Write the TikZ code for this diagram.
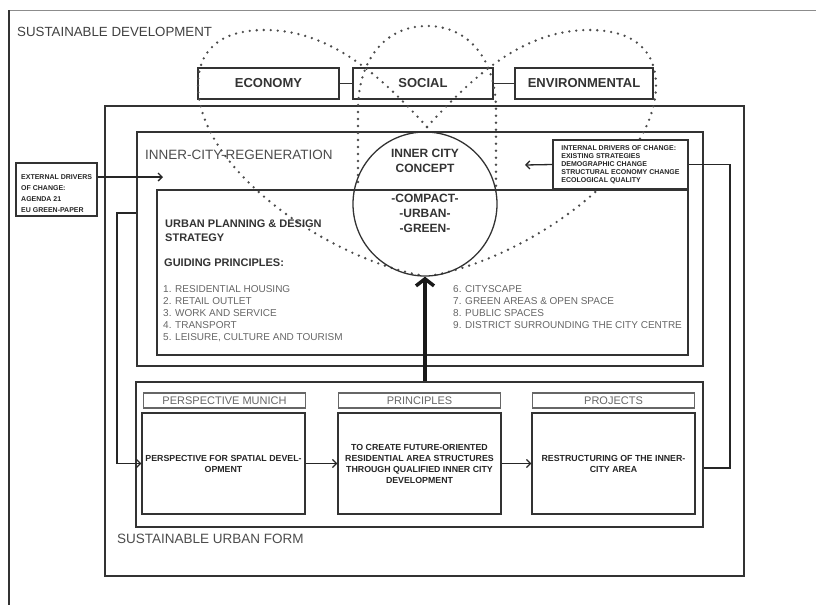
\documentclass[tikz,border=0pt]{standalone}
\usepackage{fontspec}
\setmainfont{Liberation Sans}
\usetikzlibrary{arrows.meta}

\begin{document}
\begin{tikzpicture}[x=1pt,y=-1pt,>={Straight Barb[length=4pt,width=8pt]},
		frame/.style={draw=black!80,line width=2pt},
		box/.style={draw=black!80,line width=1.2pt},
		pillar/.style={box,minimum width=140,minimum height=31,text=black!80,font=\bfseries\fontsize{13}{13}\selectfont},
		head/.style={draw=black!60,line width=1.2pt,minimum width=162,minimum height=15,inner sep=0pt,text=black!60,font=\fontsize{11}{11}\selectfont},
		cell/.style={box,minimum width=163,minimum height=101,inner sep=2pt,align=center,text=black!85,font=\bfseries\fontsize{8.8}{11}\selectfont},
		title/.style={anchor=west,inner sep=0pt,text=black!70,font=\fontsize{13.5}{13.5}\selectfont},
		list/.style={anchor=north west,inner sep=0pt,align=left,text=black!60,font=\fontsize{10}{12}\selectfont},
		petal/.style={draw=black!70,line width=2.6pt,line cap=round,dash pattern=on 0pt off 7pt},
		flow/.style={->,draw=black!85,line width=1.3pt}]
			\useasboundingbox (0,0) rectangle (816,605);
			\draw[black!45,line width=1pt] (816,10) -- (9,10);
			\draw[black!80,line width=2pt] (9,10) -- (9,605);
			\draw (424.5,341) node [frame,minimum width=639,minimum height=470] (urbanform) {};
			\draw (420,249) node [frame,line width=2.5pt,minimum width=566,minimum height=234] (regen) {};
			\draw (422.5,272.5) node [box,minimum width=531,minimum height=165] (strategy) {};
			\draw (419.5,454.5) node [frame,minimum width=567,minimum height=145] (munich) {};
			\draw (268.5,83.5) node [pillar,minimum width=141] (economy) {ECONOMY};
			\draw (423,83.5) node [pillar] (social) {SOCIAL};
			\draw (584,83.5) node [pillar,minimum width=138] (environ) {ENVIRONMENTAL};
			\draw[petal] (427,127) .. controls (380,75) and (330,30) .. (265,30) .. controls (215,30) and (198,55) .. (198,85) .. controls (198,170) and (330,260) .. (425,276);
			\draw[petal] (427,127) .. controls (474,75) and (524,30) .. (589,30) .. controls (639,30) and (656,55) .. (656,85) .. controls (656,170) and (524,260) .. (429,276);
			\draw[petal] (358,182) -- (358,110) .. controls (358,60) and (385,26) .. (427,26) .. controls (469,26) and (496,60) .. (496,110) -- (496,192);
			\draw (425,204) node [circle,draw=black!80,line width=1.3pt,minimum size=144] (concept) {};
			\draw (425,190.5) node [align=center,text=black!80,font=\bfseries\fontsize{12}{15}\selectfont] (concepttext) {INNER CITY\\CONCEPT\\[15pt]-COMPACT-\\-URBAN-\\-GREEN-};
			\draw (56.5,189.5) node [box,minimum width=81,minimum height=53] (external) {};
			\draw (21,194) node [anchor=west,inner sep=0pt,align=left,text=black!85,font=\bfseries\fontsize{7}{11}\selectfont] (externaltext) {EXTERNAL DRIVERS\\OF CHANGE:\\AGENDA 21\\EU GREEN-PAPER};
			\draw (620.5,164.5) node [box,fill=white,minimum width=135,minimum height=49,align=left,text=black!85,font=\bfseries\fontsize{7}{8}\selectfont] (internal) {INTERNAL DRIVERS OF CHANGE:\\EXISTING STRATEGIES\\DEMOGRAPHIC CHANGE\\STRUCTURAL ECONOMY CHANGE\\ECOLOGICAL QUALITY};
			\draw (17,32) node [title,text=black!75,font=\fontsize{13.3}{13.3}\selectfont] (sdlabel) {SUSTAINABLE DEVELOPMENT};
			\draw (145,155) node [title] (regenlabel) {INNER-CITY-REGENERATION};
			\draw (117,539) node [title] (formlabel) {SUSTAINABLE URBAN FORM};
			\draw (165,220) node [anchor=north west,inner sep=0pt,align=left,text=black!80,font=\bfseries\fontsize{11}{14}\selectfont] (strategylabel) {URBAN PLANNING \& DESIGN\\STRATEGY};
			\draw (164,263) node [anchor=west,inner sep=0pt,text=black!80,font=\bfseries\fontsize{11}{11}\selectfont] (guidelabel) {GUIDING PRINCIPLES:};
			\draw (163,285.5) node [list] (lista) {1. RESIDENTIAL HOUSING\\2. RETAIL OUTLET\\3. WORK AND SERVICE\\4. TRANSPORT\\5. LEISURE, CULTURE AND TOURISM};
			\draw (453,285.5) node [list] (listb) {6. CITYSCAPE\\7. GREEN AREAS \& OPEN SPACE\\8. PUBLIC SPACES\\9. DISTRICT SURROUNDING THE CITY CENTRE};
			\draw (224.5,400.5) node [head] (perspectivehead) {PERSPECTIVE MUNICH};
			\draw (419.5,400.5) node [head] (principleshead) {PRINCIPLES};
			\draw (613.5,400.5) node [head] (projectshead) {PROJECTS};
			\draw (223.5,463.5) node [cell] (perspective) {PERSPECTIVE FOR SPATIAL DEVEL-\\OPMENT};
			\draw (419.5,463.5) node [cell] (principles) {TO CREATE FUTURE-ORIENTED\\RESIDENTIAL AREA STRUCTURES\\THROUGH QUALIFIED INNER CITY\\DEVELOPMENT};
			\draw (613.5,463.5) node [cell] (projects) {RESTRUCTURING OF THE INNER-\\CITY AREA};
			\coordinate (regenin) at (163,177);
			\coordinate (conceptin) at (525,165);
			\coordinate (feedback) at (730,468);
			\coordinate (loopback) at (117,213);
			\draw[black!80,line width=1.3pt] (economy) -- (social) -- (environ);
			\draw[flow] (external.east |- regenin) -- (regenin);
			\draw[flow] (internal.west) -- (conceptin);
			\path[flow]
				(perspective) edge (principles)
				(principles) edge (projects);
			\draw[black!85,line width=1.3pt] (internal.east) -| (feedback) -- (munich.east |- feedback);
			\draw[flow] (regen.west |- loopback) -- (loopback) |- (perspective.west);
			\draw[->,black!90,line width=3.5pt,>={Straight Barb[length=7pt,width=18pt]}] (concept.south |- munich.north) -- (concept.south);
		\end{tikzpicture}
\end{document}
